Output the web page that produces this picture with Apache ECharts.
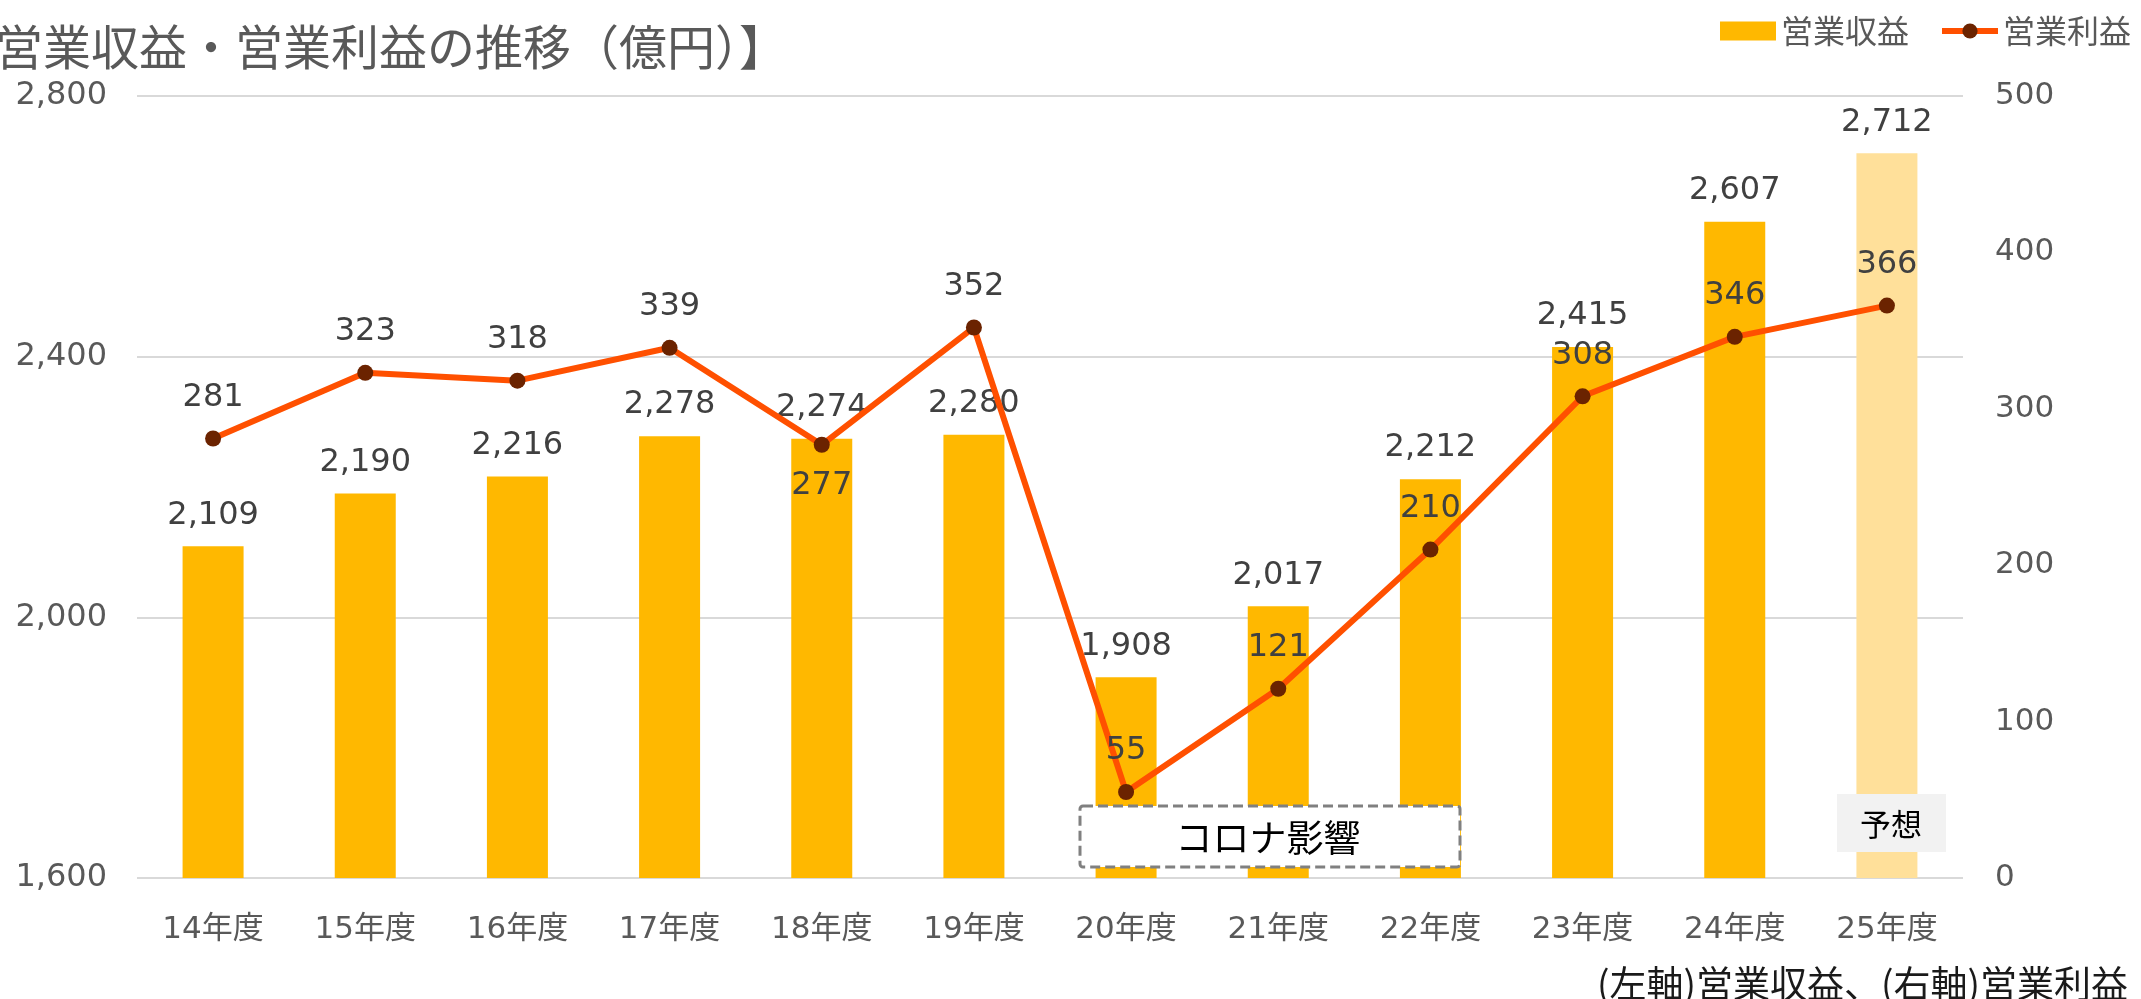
<!DOCTYPE html>
<html>
<head>
<meta charset="utf-8">
<script src="https://cdn.jsdelivr.net/npm/echarts@6/dist/echarts.min.js"></script>
<style>
html, body { margin: 0; padding: 0; background: #fff; }
#main { width: 2141px; height: 999px; }
</style>
</head>
<body>
<div id="main"></div>
<script>
// data
var categories = ['14年度', '15年度', '16年度', '17年度', '18年度', '19年度', '20年度', '21年度', '22年度', '23年度', '24年度', '25年度'];
var revenue = [2109, 2190, 2216, 2278, 2274, 2280, 1908, 2017, 2212, 2415, 2607, 2712];
var profit = [281, 323, 318, 339, 277, 352, 55, 121, 210, 308, 346, 366];
var leftTicks = [1600, 2000, 2400, 2800];
var rightTicks = [0, 100, 200, 300, 400, 500];

var numFont = 'DejaVu Sans, Noto Sans CJK JP, sans-serif';
var cjkFont = 'Noto Sans CJK JP, sans-serif';
var fmt = function (v) { return v.toLocaleString('en-US'); };

var myChart = echarts.init(document.getElementById('main'));

var option = {
    backgroundColor: '#ffffff',
    animation: false,
    title: {
        text: '営業収益・営業利益の推移（億円）】',
        left: -10,
        top: 18,
        textStyle: {
            fontFamily: cjkFont,
            fontSize: 48,
            fontWeight: 'normal',
            color: '#595959'
        }
    },
    legend: {
        right: 5,
        top: 10,
        itemWidth: 56,
        itemHeight: 19,
        itemGap: 30,
        textStyle: { fontFamily: cjkFont, fontSize: 32, color: '#595959' },
        data: [
            { name: '営業収益', icon: 'rect' },
            { name: '営業利益', lineStyle: { width: 6 } }
        ]
    },
    grid: { left: 137, right: 178, top: 96, bottom: 121 },
    xAxis: [{
        type: 'category',
        data: categories,
        axisLine: { show: false },
        axisTick: { show: false },
        axisLabel: { margin: 36, fontFamily: numFont, fontSize: 31, color: '#595959' }
    }],
    yAxis: [{
        type: 'value',
        min: leftTicks[0],
        max: leftTicks[leftTicks.length - 1],
        interval: 400,
        axisLabel: { margin: 30, fontFamily: numFont, fontSize: 32, color: '#595959', formatter: fmt },
        splitLine: { lineStyle: { color: '#d9d9d9', width: 2 } }
    }, {
        type: 'value',
        min: rightTicks[0],
        max: rightTicks[rightTicks.length - 1],
        interval: 100,
        axisLabel: { margin: 32, fontFamily: numFont, fontSize: 31, color: '#595959' },
        splitLine: { show: false }
    }],
    series: [{
        name: '営業収益',
        type: 'bar',
        yAxisIndex: 0,
        barWidth: 61,
        itemStyle: { color: '#FFB800' },
        data: revenue.map(function (v, i) {
            return i === revenue.length - 1 ? { value: v, itemStyle: { color: '#FFE09A' } } : v;
        }),
        label: {
            show: true,
            position: 'top',
            distance: 15,
            fontFamily: numFont,
            fontSize: 32,
            color: '#404040',
            formatter: function (p) { return fmt(p.value); }
        }
    }, {
        name: '営業利益',
        type: 'line',
        yAxisIndex: 1,
        symbol: 'circle',
        symbolSize: 16,
        lineStyle: { color: '#FF5000', width: 6 },
        itemStyle: { color: '#6B2300' },
        z: 5,
        data: profit.map(function (v, i) {
            return categories[i] === '18年度' ? { value: v, label: { position: 'bottom' } } : v;
        }),
        label: {
            show: true,
            position: 'top',
            distance: 17,
            fontFamily: numFont,
            fontSize: 32,
            color: '#404040'
        }
    }],
    graphic: [{
        type: 'rect',
        z: 100,
        shape: { x: 1080, y: 806, width: 380, height: 61, r: 3 },
        style: { fill: '#ffffff', stroke: '#808080', lineWidth: 3, lineDash: [10, 5] }
    }, {
        type: 'text',
        z: 101,
        x: 1268, y: 838,
        style: { text: 'コロナ影響', fontFamily: cjkFont, fontSize: 37, fill: '#000000', align: 'center', verticalAlign: 'middle' }
    }, {
        type: 'rect',
        z: 100,
        shape: { x: 1837, y: 794, width: 109, height: 58 },
        style: { fill: '#f2f2f2' }
    }, {
        type: 'text',
        z: 101,
        x: 1891, y: 824,
        style: { text: '予想', fontFamily: cjkFont, fontSize: 31, fill: '#000000', align: 'center', verticalAlign: 'middle' }
    }, {
        type: 'text',
        z: 101,
        x: 2128, y: 984,
        style: { text: '(左軸)営業収益、(右軸)営業利益', fontFamily: cjkFont, fontSize: 37, fill: '#1a1a1a', align: 'right', verticalAlign: 'middle' }
    }]
};

myChart.setOption(option);
</script>
</body>
</html>
